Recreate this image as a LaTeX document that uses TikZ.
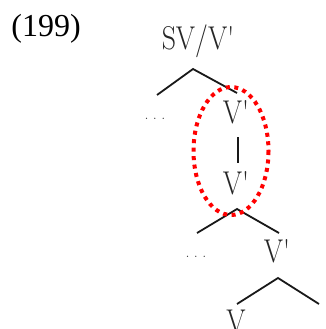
\documentclass[tikz,border=0pt]{standalone}
\usepackage{fontspec}
\usepackage{graphicx}
\newfontfamily\exfont{Liberation Serif}
\newcommand{\tallt}[1]{\scalebox{1.03}[1.22]{#1}}
\newcommand{\mydots}{.\hspace{4.5pt}.\hspace{4.5pt}.}
\begin{document}
\begin{tikzpicture}[x=1pt,y=-1pt,
  lbl/.style={inner sep=0pt, font=\fontsize{27}{27}\selectfont, text=black!85},
  dotsl/.style={inner sep=0pt, font=\fontsize{16}{16}\selectfont, text=black!80},
  br/.style={line width=1.8pt, black!90},
  circ/.style={draw=red, line width=4pt, dash pattern=on 4pt off 4.5pt}]
\useasboundingbox (0,0) rectangle (326,329);
\node[inner sep=0pt, font=\exfont\fontsize{32}{32}\selectfont] (ex) at (46,29) {(199)};
\node[lbl] (top) at (198,41) {\tallt{SV/V\textquotesingle}};
\node[dotsl] (d1) at (155,119) {\mydots};
\node[lbl] (v1) at (236,112) {\tallt{V\textquotesingle}};
\node[lbl] (v2) at (236,183) {\tallt{V\textquotesingle}};
\node[dotsl] (d2) at (196,257) {\mydots};
\node[lbl] (v3) at (277,251) {\tallt{V\textquotesingle}};
\node[lbl] (v4) at (236,322) {\tallt{V}};
\coordinate (a1) at (193,69);
\coordinate (l1) at (157,95);
\coordinate (r1) at (237,93);
\coordinate (t1) at (238,137);
\coordinate (t2) at (238,163);
\coordinate (a2) at (237,209);
\coordinate (l2) at (197,233);
\coordinate (r2) at (279,233);
\coordinate (a3) at (278,278);
\coordinate (l3) at (237,304);
\coordinate (r3) at (319,304);
\draw[br] (l1) -- (a1) -- (r1);
\draw[br] (t1) -- (t2);
\draw[br] (l2) -- (a2) -- (r2);
\draw[br] (l3) -- (a3) -- (r3);
\draw[circ] (231,151) ellipse [x radius=37.5, y radius=64];
\end{tikzpicture}
\end{document}
